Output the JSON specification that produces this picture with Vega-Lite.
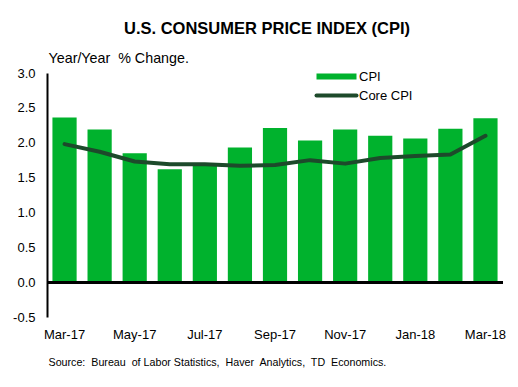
{
  "$schema": "https://vega.github.io/schema/vega-lite/v6.json",
  "width": 456,
  "height": 244,
  "autosize": {"type": "none"},
  "padding": {"left": 47, "top": 73, "right": 15, "bottom": 70},
  "background": "white",
  "title": {
    "text": "U.S. CONSUMER PRICE INDEX (CPI)",
    "font": "Liberation Sans",
    "fontSize": 16.5,
    "fontWeight": "bold",
    "color": "black",
    "anchor": "middle",
    "frame": "group",
    "dx": -8,
    "offset": 14
  },
  "data": {
    "values": [
      {"month": "Mar-17", "series": "CPI", "value": 2.36},
      {"month": "Apr-17", "series": "CPI", "value": 2.19},
      {"month": "May-17", "series": "CPI", "value": 1.85},
      {"month": "Jun-17", "series": "CPI", "value": 1.62},
      {"month": "Jul-17", "series": "CPI", "value": 1.7},
      {"month": "Aug-17", "series": "CPI", "value": 1.93},
      {"month": "Sep-17", "series": "CPI", "value": 2.21},
      {"month": "Oct-17", "series": "CPI", "value": 2.03},
      {"month": "Nov-17", "series": "CPI", "value": 2.19},
      {"month": "Dec-17", "series": "CPI", "value": 2.1},
      {"month": "Jan-18", "series": "CPI", "value": 2.06},
      {"month": "Feb-18", "series": "CPI", "value": 2.2},
      {"month": "Mar-18", "series": "CPI", "value": 2.35},
      {"month": "Mar-17", "series": "Core CPI", "value": 1.98},
      {"month": "Apr-17", "series": "Core CPI", "value": 1.87},
      {"month": "May-17", "series": "Core CPI", "value": 1.73},
      {"month": "Jun-17", "series": "Core CPI", "value": 1.69},
      {"month": "Jul-17", "series": "Core CPI", "value": 1.69},
      {"month": "Aug-17", "series": "Core CPI", "value": 1.67},
      {"month": "Sep-17", "series": "Core CPI", "value": 1.68},
      {"month": "Oct-17", "series": "Core CPI", "value": 1.75},
      {"month": "Nov-17", "series": "Core CPI", "value": 1.7},
      {"month": "Dec-17", "series": "Core CPI", "value": 1.78},
      {"month": "Jan-18", "series": "Core CPI", "value": 1.81},
      {"month": "Feb-18", "series": "Core CPI", "value": 1.83},
      {"month": "Mar-18", "series": "Core CPI", "value": 2.1}
    ]
  },
  "encoding": {
    "x": {
      "field": "month",
      "type": "ordinal",
      "sort": ["Mar-17","Apr-17","May-17","Jun-17","Jul-17","Aug-17","Sep-17","Oct-17","Nov-17","Dec-17","Jan-18","Feb-18","Mar-18"],
      "scale": {"paddingInner": 0.31, "paddingOuter": 0.155},
      "axis": {
        "values": ["Mar-17","May-17","Jul-17","Sep-17","Nov-17","Jan-18","Mar-18"],
        "domain": false,
        "ticks": false,
        "labelAngle": 0,
        "labelPadding": 11,
        "labelFontSize": 13,
        "title": "Source:\u00a0 Bureau\u00a0 of Labor Statistics,\u00a0 Haver\u00a0 Analytics,\u00a0 TD\u00a0 Economics.",
        "titleFontSize": 10.7,
        "titleFontWeight": "normal",
        "titleAnchor": "start",
        "titleAlign": "left",
        "titleBaseline": "alphabetic",
        "titleX": 1,
        "titleY": 48
      }
    },
    "y": {
      "field": "value",
      "type": "quantitative",
      "scale": {"domain": [-0.5, 3.0], "nice": false, "zero": false},
      "axis": {
        "values": [-0.5, 0, 0.5, 1, 1.5, 2, 2.5, 3],
        "labelExpr": "datum.value < 0 ? '-' + format(-datum.value, '.1f') : format(datum.value, '.1f')",
        "grid": false,
        "ticks": false,
        "domainColor": "black",
        "domainWidth": 2,
        "labelPadding": 12,
        "labelFontSize": 13,
        "title": "Year/Year\u00a0 % Change.",
        "titleAngle": 0,
        "titleX": 1,
        "titleY": -11,
        "titleAlign": "left",
        "titleBaseline": "alphabetic",
        "titleFontSize": 14.3,
        "titleFontWeight": "normal"
      }
    },
    "color": {
      "field": "series",
      "type": "nominal",
      "scale": {"domain": ["CPI", "Core CPI"], "range": ["#00B22D", "#1D4A2B"]},
      "legend": {
        "title": null,
        "orient": "none",
        "legendX": 283,
        "legendY": -3,
        "symbolType": "stroke",
        "symbolSize": 1600,
        "symbolStrokeWidth": 5,
        "labelFontSize": 13,
        "labelOffset": 16,
        "rowPadding": -5,
        "encode": {
          "symbols": {
            "update": {
              "strokeWidth": {"signal": "datum.value === 'CPI' ? 6 : 4"},
              "strokeCap": {"signal": "datum.value === 'CPI' ? 'butt' : 'round'"}
            }
          }
        }
      }
    }
  },
  "layer": [
    {
      "transform": [{"filter": "datum.series === 'CPI'"}],
      "mark": {"type": "bar"}
    },
    {
      "transform": [{"filter": "datum.series === 'Core CPI'"}],
      "mark": {"type": "line", "strokeWidth": 4, "strokeCap": "round", "strokeJoin": "round"}
    },
    {
      "mark": {"type": "rule", "color": "black", "strokeWidth": 2},
      "encoding": {"y": {"datum": 0}, "x": null, "color": null}
    }
  ],
  "config": {
    "view": {"stroke": null},
    "font": "Liberation Sans",
    "axis": {"labelColor": "black", "titleColor": "black", "labelFont": "Liberation Sans", "titleFont": "Liberation Sans"},
    "legend": {"labelColor": "black", "labelFont": "Liberation Sans"}
  }
}
